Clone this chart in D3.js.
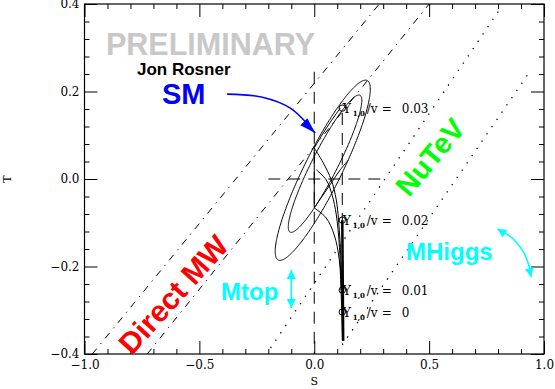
<!DOCTYPE html>
<html>
  <head>
    <meta charset="utf-8">
    <script src="https://d3js.org/d3.v7.min.js"></script>
    <title>S-T plane</title>
    <style>
      body { margin: 0; background: #fff; }
    </style>
  </head>
  <body>
    <div id="chart"></div>
  <script>

    // DATA

    const xMajor = [-1, -0.5, 0, 0.5, 1];
    const yMajor = [-0.4, -0.2, 0, 0.2, 0.4];

    // Direct MW band (dash-dot), NuTeV band (dotted): [S,T] end points
    const mwLines = [
      [[-0.966, -0.4], [0.283, 0.4]],
      [[-0.727, -0.4], [0.5, 0.4]]
    ];
    const nutevLines = [
      [[-0.19, -0.386], [0.805, 0.386]],
      [[0.122, -0.379], [0.94, 0.247]]
    ];
    // reference cross (dashed)
    const refLines = [
      [[0, 0.245], [0, -0.4]],
      [[-0.2, 0], [0.3, 0]]
    ];

    // fit contours: centre, widths, correlation
    const contours = [
      {s0: 0.037, t0: 0.02, sS: 0.207, sT: 0.206, rho: 0.9},
      {s0: 0.047, t0: 0.035, sS: 0.16, sT: 0.157, rho: 0.92}
    ];

    // SM prediction curves
    const smCurves = [
      [[0, 0.071], [0, -0.066]],
      [[0, 0.071], [0.039, 0.037], [0.074, -0.002], [0.096, -0.048], [0.109, -0.117], [0.118, -0.208], [0.122, -0.299], [0.126, -0.368]],
      [[0, -0.066], [0.052, -0.089], [0.087, -0.128], [0.109, -0.185], [0.118, -0.277], [0.122, -0.368]],
      [[0, -0.066], [0.035, -0.039], [0.074, -0.009], [0.113, 0.021], [0.148, 0.043]],
      [[0.113, 0.162], [0.070, 0.130], [0.026, 0.094], [0, 0.071]],
      [[0.009, 0.021], [0.052, -0.002], [0.078, -0.037], [0.096, -0.082], [0.109, -0.151], [0.118, -0.254]]
    ];
    const smThick = [[0.122, -0.094], [0.126, -0.37]];
    const smDashed = [[0.122, 0.151], [0.122, -0.094]];

    // Y_{1,0}/v points
    const yukS = 0.122;
    const yukT = [0.162, -0.094, -0.254, -0.304];
    const yukVals = ["0.03", "0.02", "0.01", "0"];

    // annotation anchors (data coords)
    const smArrow = [[-0.379, 0.194], [-0.226, 0.187], [-0.104, 0.162], [0.004, 0.105]];
    const mtopArrow = [[-0.1, -0.208], [-0.1, -0.295]];
    const mhArrow = [[0.797, -0.114], [0.862, -0.135], [0.905, -0.162], [0.931, -0.192], [0.944, -0.224]];

    // SCALES

    const W = 555, H = 389;
    const svg = d3.select('#chart').append('svg')
      .attr('width', W).attr('height', H);

    const x = d3.scaleLinear().domain([-1, 1]).range([84.5, 544]);
    const y = d3.scaleLinear().domain([-0.4, 0.4]).range([354, 4]);

    const line = d3.line().x(d => x(d[0])).y(d => y(d[1]));
    const smooth = d3.line().x(d => x(d[0])).y(d => y(d[1])).curve(d3.curveCatmullRom);

    // AXES (ticks point inward on all four sides)

    const xMinor = d3.range(-0.9, 1, 0.1).filter(v => Math.abs(v * 2 - Math.round(v * 2)) > 1e-6);
    const yMinor = d3.range(-0.36, 0.4, 0.04).filter(v => Math.abs(v * 5 - Math.round(v * 5)) > 1e-6);
    const fmt = d3.format('.1f');

    function axis(gen, scale, vals, size, labels, pad) {
      return gen(scale).tickValues(vals).tickSize(-size).tickPadding(pad || 5)
        .tickFormat(labels ? fmt : '');
    }
    function addAxis(a, tx, ty) {
      const g = svg.append('g').attr('transform', `translate(${tx},${ty})`).call(a);
      g.select('.domain').remove();
      g.selectAll('line').attr('stroke', '#000');
      g.selectAll('text').attr('font-family', 'DejaVu Serif').attr('font-size', 12).attr('fill', '#000');
      return g;
    }
    addAxis(axis(d3.axisBottom, x, xMajor, 13, true, 6.5), 0, 354);
    addAxis(axis(d3.axisBottom, x, xMinor, 5, false), 0, 354);
    addAxis(axis(d3.axisTop, x, xMajor, 13, false), 0, 4);
    addAxis(axis(d3.axisTop, x, xMinor, 5, false), 0, 4);
    addAxis(axis(d3.axisLeft, y, yMajor, 13, true), 84.5, 0);
    addAxis(axis(d3.axisLeft, y, yMinor, 5, false), 84.5, 0);
    addAxis(axis(d3.axisRight, y, yMajor, 13, false), 544, 0);
    addAxis(axis(d3.axisRight, y, yMinor, 5, false), 544, 0);

    svg.append('rect')
      .attr('x', 84.5).attr('y', 4).attr('width', 544 - 84.5).attr('height', 350)
      .attr('fill', 'none').attr('stroke', '#000').attr('stroke-width', 1.2);

    svg.append('text').attr('x', x(0)).attr('y', 385)
      .attr('text-anchor', 'middle').attr('font-family', 'DejaVu Serif').attr('font-size', 11)
      .text('S');
    svg.append('text')
      .attr('transform', `translate(11,${y(0)}) rotate(-90)`)
      .attr('text-anchor', 'middle').attr('font-family', 'DejaVu Serif').attr('font-size', 11)
      .text('T');

    // LINES

    const plot = svg.append('g');
    plot.selectAll('path.mw').data(mwLines).enter().append('path')
      .attr('d', line).attr('fill', 'none').attr('stroke', '#000')
      .attr('stroke-width', 1).attr('stroke-dasharray', '7,6,1.2,6');
    plot.selectAll('path.nutev').data(nutevLines).enter().append('path')
      .attr('d', line).attr('fill', 'none').attr('stroke', '#000')
      .attr('stroke-width', 1.3).attr('stroke-dasharray', '1.3,7.5');
    plot.selectAll('path.ref').data(refLines).enter().append('path')
      .attr('d', line).attr('fill', 'none').attr('stroke', '#000')
      .attr('stroke-width', 1).attr('stroke-dasharray', '12,8');

    contours.forEach(function(c) {
      const pts = d3.range(0, 2 * Math.PI + 0.02, 0.02).map(function(t) {
        return [c.s0 + c.sS * Math.cos(t),
                c.t0 + c.sT * (c.rho * Math.cos(t) + Math.sqrt(1 - c.rho * c.rho) * Math.sin(t))];
      });
      plot.append('path').attr('d', line(pts))
        .attr('fill', 'none').attr('stroke', '#000').attr('stroke-width', 1);
    });

    plot.selectAll('path.sm').data(smCurves).enter().append('path')
      .attr('d', smooth).attr('fill', 'none').attr('stroke', '#000').attr('stroke-width', 1);
    plot.append('path').attr('d', line(smThick))
      .attr('fill', 'none').attr('stroke', '#000').attr('stroke-width', 2.5);
    plot.append('path').attr('d', line(smDashed))
      .attr('fill', 'none').attr('stroke', '#000').attr('stroke-width', 1).attr('stroke-dasharray', '12,8');

    yukT.forEach(function(t, i) {
      const x0 = x(yukS) + 0.5, y0 = y(t) + 5;
      plot.append('circle').attr('cx', x(yukS)).attr('cy', y(t)).attr('r', 3.2)
        .attr('fill', 'none').attr('stroke', '#000');
      const tx = plot.append('text').attr('x', x0).attr('y', y0)
        .attr('font-family', 'DejaVu Serif').attr('font-size', 12);
      tx.append('tspan').attr('font-size', 12.5).text('Υ');
      tx.append('tspan').attr('x', x0 + 10).attr('y', y0 + 3)
        .attr('font-size', 7).attr('font-weight', 'bold').text('1,0');
      tx.append('tspan').attr('x', x0 + 24).attr('y', y0).text('/v');
      tx.append('tspan').attr('x', x0 + 39).attr('y', y0).text('=');
      tx.append('tspan').attr('x', x0 + 59).attr('y', y0).text(yukVals[i]);
    });

    // ANNOTATIONS

    function arrowHead(tip, from, len, wid, color) {
      const p = [x(tip[0]), y(tip[1])], q = [x(from[0]), y(from[1])];
      const dx = p[0] - q[0], dy = p[1] - q[1], n = Math.hypot(dx, dy);
      const ux = dx / n, uy = dy / n;
      const bx = p[0] - ux * len, by = p[1] - uy * len;
      svg.append('polygon')
        .attr('points', [[p[0], p[1]], [bx - uy * wid / 2, by + ux * wid / 2], [bx + uy * wid / 2, by - ux * wid / 2]].join(' '))
        .attr('fill', color);
    }

    svg.append('path').attr('d', smooth(smArrow)).attr('fill', 'none')
      .attr('stroke', '#0000ff').attr('stroke-width', 1.6);
    arrowHead(smArrow[3], smArrow[2], 16, 10, '#0000ff');

    svg.append('path').attr('d', line(mtopArrow)).attr('fill', 'none')
      .attr('stroke', '#00ffff').attr('stroke-width', 1.6);
    arrowHead(mtopArrow[0], mtopArrow[1], 9, 9, '#00ffff');
    arrowHead(mtopArrow[1], mtopArrow[0], 9, 9, '#00ffff');

    svg.append('path').attr('d', smooth(mhArrow)).attr('fill', 'none')
      .attr('stroke', '#00ffff').attr('stroke-width', 1.6);
    arrowHead(mhArrow[0], mhArrow[1], 9, 9, '#00ffff');
    arrowHead(mhArrow[4], mhArrow[3], 9, 9, '#00ffff');

    function label(txt, cx, cy, size, color, angle) {
      svg.append('text')
        .attr('transform', `translate(${cx},${cy}) rotate(${angle || 0})`)
        .attr('font-family', 'Liberation Sans, Arial, sans-serif').attr('font-weight', 'bold')
        .attr('font-size', size).attr('fill', color)
        .text(txt);
    }
    label('PRELIMINARY', 106, 55, 30.5, '#c8c8c8');
    label('Jon Rosner', 137, 75, 17, '#000');
    label('SM', 162, 104, 29, '#0000ff');
    label('Mtop', 221, 300, 24, '#00ffff');
    label('MHiggs', 406, 260, 24, '#00ffff');
    label('Direct MW', 132, 356, 30, '#ff0000', -48);
    label('NuTeV', 409, 198, 29, '#00ff00', -50);

  </script>
  </body>
</html>
